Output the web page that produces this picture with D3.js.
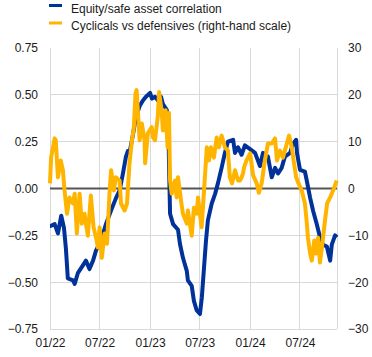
<!DOCTYPE html>
<html><head><meta charset="utf-8">
<script src="https://cdn.jsdelivr.net/npm/d3@7"></script>
<style>body{margin:0;background:#fff}svg{display:block;font-family:"Liberation Sans",Arial,sans-serif}</style>
</head><body><svg id="c" width="372" height="357"></svg>
<script>
const seriesNames = ["Equity/safe asset correlation", "Cyclicals vs defensives (right-hand scale)"];
const seriesColors = ["#003299", "#FFB400"];
const leftTicks = [-0.75, -0.5, -0.25, 0, 0.25, 0.5, 0.75];
const rightTicks = [-30, -20, -10, 0, 10, 20, 30];
const xTickDates = ["2022-01-01","2022-07-01","2023-01-01","2023-07-01","2024-01-01","2024-07-01"];
const xTickLabels = ["01/22","07/22","01/23","07/23","01/24","07/24"];

const corrDates = ["2022-01-01","2022-01-03","2022-01-18","2022-01-30","2022-02-11","2022-02-21","2022-02-28","2022-03-07","2022-03-26","2022-04-01","2022-04-13","2022-05-01","2022-05-12","2022-05-25","2022-06-07","2022-06-18","2022-07-06","2022-07-24","2022-08-11","2022-08-30","2022-09-12","2022-09-24","2022-10-05","2022-10-12","2022-10-18","2022-10-31","2022-11-10","2022-11-24","2022-12-06","2022-12-17","2023-01-01","2023-01-08","2023-01-19","2023-01-30","2023-02-10","2023-02-17","2023-03-03","2023-03-09","2023-03-13","2023-03-15","2023-03-26","2023-04-13","2023-04-20","2023-05-01","2023-05-15","2023-05-19","2023-06-02","2023-06-10","2023-06-20","2023-07-02","2023-07-09","2023-07-17","2023-07-24","2023-07-31","2023-08-14","2023-08-26","2023-09-06","2023-09-19","2023-10-01","2023-10-12","2023-10-31","2023-11-07","2023-11-18","2023-12-01","2023-12-13","2024-01-01","2024-01-19","2024-02-06","2024-02-17","2024-03-06","2024-03-20","2024-04-01","2024-04-12","2024-04-25","2024-05-07","2024-05-26","2024-06-06","2024-06-17","2024-06-20","2024-07-01","2024-07-19","2024-07-26","2024-08-07","2024-08-18","2024-08-31","2024-09-12","2024-09-23","2024-10-07","2024-10-19","2024-10-25","2024-11-06","2024-11-13"];
const corrValues = [-0.20,-0.20,-0.19,-0.24,-0.145,-0.21,-0.32,-0.48,-0.49,-0.51,-0.45,-0.41,-0.385,-0.43,-0.385,-0.33,-0.28,-0.19,-0.12,-0.05,-0.01,0.08,0.17,0.20,0.19,0.29,0.38,0.44,0.47,0.49,0.51,0.48,0.49,0.47,0.49,0.45,0.42,0.30,0.0,-0.135,-0.19,-0.22,-0.295,-0.37,-0.44,-0.49,-0.52,-0.60,-0.65,-0.67,-0.58,-0.42,-0.28,-0.17,-0.08,-0.03,0.03,0.11,0.19,0.25,0.26,0.19,0.22,0.18,0.23,0.21,0.19,0.12,0.19,0.17,0.06,0.11,0.08,0.11,0.17,0.19,0.24,0.26,0.19,0.10,0.09,0.04,-0.05,-0.12,-0.19,-0.26,-0.30,-0.31,-0.385,-0.30,-0.25,-0.26];

const cycDates = ["2022-01-01","2022-01-05","2022-01-18","2022-01-22","2022-01-30","2022-02-09","2022-02-17","2022-02-23","2022-03-04","2022-03-13","2022-03-26","2022-04-01","2022-04-09","2022-04-19","2022-04-27","2022-05-07","2022-05-19","2022-05-30","2022-06-09","2022-06-18","2022-06-25","2022-07-01","2022-07-09","2022-07-19","2022-07-28","2022-08-06","2022-08-12","2022-08-22","2022-08-29","2022-09-12","2022-09-17","2022-09-30","2022-10-09","2022-10-18","2022-10-27","2022-11-03","2022-11-09","2022-11-13","2022-11-18","2022-11-24","2022-12-02","2022-12-12","2022-12-14","2022-12-24","2023-01-07","2023-01-12","2023-01-19","2023-01-29","2023-02-03","2023-02-12","2023-02-17","2023-02-27","2023-03-06","2023-03-11","2023-03-15","2023-03-21","2023-04-02","2023-04-08","2023-04-13","2023-04-24","2023-05-01","2023-05-15","2023-05-19","2023-06-02","2023-06-10","2023-06-20","2023-06-25","2023-07-02","2023-07-08","2023-07-17","2023-07-27","2023-08-04","2023-08-11","2023-08-22","2023-09-01","2023-09-09","2023-09-19","2023-10-01","2023-10-12","2023-10-19","2023-10-27","2023-11-07","2023-11-18","2023-11-25","2023-12-01","2023-12-06","2023-12-10","2023-12-19","2024-01-01","2024-01-12","2024-01-25","2024-02-02","2024-02-12","2024-02-24","2024-03-06","2024-03-20","2024-04-01","2024-04-08","2024-04-19","2024-04-30","2024-05-14","2024-05-22","2024-06-01","2024-06-06","2024-06-17","2024-06-24","2024-07-07","2024-07-19","2024-07-26","2024-07-30","2024-08-07","2024-08-13","2024-08-22","2024-08-29","2024-09-05","2024-09-12","2024-09-22","2024-09-30","2024-10-08","2024-10-19","2024-10-30","2024-11-12"];
const cycValues = [1.1,6.6,10.7,10.3,2.4,6.0,3.9,-0.4,-5.4,-1.9,-3.2,-1.1,-9.6,-1.1,-7.5,-5.4,-10.1,-1.5,-8.3,-10.5,-12.6,-8.3,-14.8,-9.6,-11.8,-1.1,3.9,-0.4,2.4,1.7,-3.2,-4.7,-3.2,5.4,10.3,13.1,20.3,21.0,16.1,10.3,13.9,10.3,5.4,11.8,13.1,10.9,10.3,15.2,20.6,16.7,12.4,16.7,8.8,16.1,1.7,-1.1,1.7,-1.9,2.4,-2.6,-5.4,-7.5,-4.7,-10.1,-4.1,-5.4,-1.9,-5.4,-8.3,-0.4,8.8,6.0,8.8,6.6,10.9,8.8,11.3,8.8,8.1,2.4,1.1,3.9,1.7,1.7,2.4,3.2,4.5,6.0,7.5,2.8,1.1,-0.9,1.1,6.0,9.6,9.6,10.7,6.0,8.1,6.6,9.6,11.3,8.8,6.6,2.4,1.3,-0.4,-3.2,-7.5,-10.5,-13.9,-15.4,-11.1,-13.9,-10.5,-15.8,-11.1,-6.9,-3.2,-1.9,-0.4,1.7];

const parse = d3.timeParse("%Y-%m-%d");
const svg = d3.select("#c");
const L = 50, R = 337, T = 48, B = 329;
const x = d3.scaleTime().domain([parse("2022-01-01"), parse("2024-11-13")]).range([L, R]);
const yL = d3.scaleLinear().domain([-0.75, 0.75]).range([B, T]);
const yR = d3.scaleLinear().domain([-30, 30]).range([B, T]);
const grid = "#d9d9d9";

// horizontal gridlines
svg.append("g").selectAll("line").data(leftTicks.filter(t => t !== 0 && t !== 0.75)).join("line")
  .attr("x1", L).attr("x2", R).attr("y1", d => yL(d)).attr("y2", d => yL(d))
  .attr("stroke", grid).attr("stroke-width", 1).attr("shape-rendering", "crispEdges");
// vertical gridlines
svg.append("g").selectAll("line").data(xTickDates.slice(1).map(parse).concat([x.domain()[1]])).join("line")
  .attr("x1", d => x(d)).attr("x2", d => x(d)).attr("y1", T).attr("y2", B)
  .attr("stroke", grid).attr("stroke-width", 1).attr("shape-rendering", "crispEdges");
svg.append("line").attr("x1", L).attr("x2", L).attr("y1", T).attr("y2", B)
  .attr("stroke", grid).attr("stroke-width", 1).attr("shape-rendering", "crispEdges");

// axes (labels only)
const fmtL = d3.format(".2f");
const axL = svg.append("g").attr("transform", `translate(${L},0)`)
  .call(d3.axisLeft(yL).tickValues(leftTicks).tickFormat(d => fmtL(d)).tickSize(0).tickPadding(12));
const axR = svg.append("g").attr("transform", `translate(${R},0)`)
  .call(d3.axisRight(yR).tickValues(rightTicks).tickFormat(d3.format("d")).tickSize(0).tickPadding(11));
const axB = svg.append("g").attr("transform", `translate(0,${B})`)
  .call(d3.axisBottom(x).tickValues(xTickDates.map(parse)).tickFormat((d, i) => xTickLabels[i]).tickSize(0).tickPadding(9));
[axL, axR, axB].forEach(a => {
  a.select(".domain").remove();
  a.selectAll("text").attr("font-size", 12).attr("fill", "#1a1a1a").attr("font-family", '"Liberation Sans",Arial,sans-serif');
});

// zero line
svg.append("line").attr("x1", L).attr("x2", R).attr("y1", yL(0)).attr("y2", yL(0))
  .attr("stroke", "#555").attr("stroke-width", 2);

const corr = corrDates.map((d, i) => ({ d: parse(d), v: corrValues[i] }));
const cyc = cycDates.map((d, i) => ({ d: parse(d), v: cycValues[i] }));
svg.append("path").datum(corr)
  .attr("d", d3.line().x(p => x(p.d)).y(p => yL(p.v)))
  .attr("fill", "none").attr("stroke", seriesColors[0]).attr("stroke-width", 4).attr("stroke-linejoin", "round");
svg.append("path").datum(cyc)
  .attr("d", d3.line().x(p => x(p.d)).y(p => yR(p.v)))
  .attr("fill", "none").attr("stroke", seriesColors[1]).attr("stroke-width", 4).attr("stroke-linejoin", "round");

// legend
const lg = svg.append("g");
seriesNames.forEach((n, i) => {
  lg.append("rect").attr("x", 49).attr("y", 4 + i * 17.5).attr("width", 13).attr("height", 3).attr("fill", seriesColors[i]);
  lg.append("text").attr("x", 71).attr("y", 12.5 + i * 17.5).attr("font-size", 12).attr("fill", "#1a1a1a").text(n);
});
</script></body></html>
